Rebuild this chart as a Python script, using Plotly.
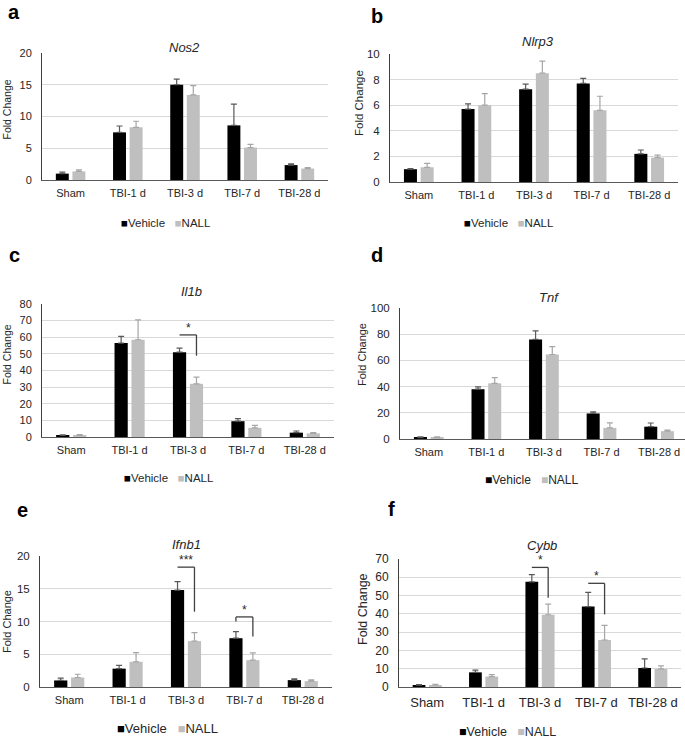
import plotly.graph_objects as go

W, H = 685, 741

categories = ["Sham", "TBI-1 d", "TBI-3 d", "TBI-7 d", "TBI-28 d"]

# mean fold change and upper error
nos2_vehicle = [1.0, 7.5, 15.0, 8.6, 2.35]
nos2_vehicle_err = [0.25, 1.0, 0.9, 3.35, 0.2]
nos2_nall = [1.35, 8.3, 13.4, 5.1, 1.8]
nos2_nall_err = [0.25, 0.95, 1.45, 0.5, 0.15]

nlrp3_vehicle = [1.0, 5.7, 7.25, 7.7, 2.2]
nlrp3_vehicle_err = [0.05, 0.4, 0.4, 0.4, 0.3]
nlrp3_nall = [1.15, 6.0, 8.5, 5.6, 1.9]
nlrp3_nall_err = [0.3, 0.9, 0.95, 1.1, 0.2]

il1b_vehicle = [1.0, 56.5, 51.0, 9.5, 2.6]
il1b_vehicle_err = [0.3, 4.0, 2.4, 1.5, 1.0]
il1b_nall = [1.0, 58.5, 32.0, 5.5, 2.2]
il1b_nall_err = [0.4, 12.0, 4.0, 1.5, 0.4]

tnf_vehicle = [1.0, 38.0, 76.0, 19.5, 9.4]
tnf_vehicle_err = [0.6, 1.8, 6.5, 1.2, 2.8]
tnf_nall = [1.0, 42.5, 64.5, 8.5, 6.0]
tnf_nall_err = [0.6, 4.3, 6.0, 3.8, 0.8]

ifnb1_vehicle = [1.0, 2.8, 14.8, 7.45, 1.05]
ifnb1_vehicle_err = [0.35, 0.5, 1.3, 1.0, 0.2]
ifnb1_nall = [1.45, 3.85, 7.0, 4.1, 0.9]
ifnb1_nall_err = [0.5, 1.4, 1.3, 1.1, 0.2]

cybb_vehicle = [1.0, 8.0, 57.5, 44.0, 10.4]
cybb_vehicle_err = [0.3, 1.2, 4.0, 7.7, 5.0]
cybb_nall = [1.1, 5.7, 39.5, 25.7, 9.9]
cybb_nall_err = [0.4, 1.1, 5.8, 8.0, 1.6]

# significance brackets: category, label, top of bracket, bottom of right leg, left tick end
il1b_sig = [("TBI-3 d", "*", 61.4, 48.9, None)]
ifnb1_sig = [("TBI-3 d", "***", 18.3, 11.5, None), ("TBI-7 d", "*", 10.7, 7.7, 10.0)]
cybb_sig = [("TBI-3 d", "*", 65.4, 48.8, None), ("TBI-7 d", "*", 56.7, 39.7, None)]

FONT = "Liberation Sans, Arial, sans-serif"
TEXT = "#262626"
VEH_COLOR = "#000000"
NALL_COLOR = "#bfbfbf"
BARGAP = 0.42

# pixel boxes of each panel and where its texts sit; font sizes: ticks x, ticks y, axis title, legend
panels = [
    dict(gene="Nos2", letter="a", v=nos2_vehicle, ve=nos2_vehicle_err, n=nos2_nall, ne=nos2_nall_err,
         box=(42, 53, 328, 180), ymax=20, dtick=5, title=(184, 48), let=(13.5, 12), leg=(166, 223),
         ylab=(6.5, 110), fs=(11, 11, 10.5, 11.5), sig=[]),
    dict(gene="Nlrp3", letter="b", v=nlrp3_vehicle, ve=nlrp3_vehicle_err, n=nlrp3_nall, ne=nlrp3_nall_err,
         box=(390, 54, 678, 182), ymax=10, dtick=2, title=(538, 42), let=(377, 16), leg=(509, 223),
         ylab=(359, 103), fs=(11, 11.5, 11.5, 11.5), sig=[]),
    dict(gene="Il1b", letter="c", v=il1b_vehicle, ve=il1b_vehicle_err, n=il1b_nall, ne=il1b_nall_err,
         box=(42, 304, 334, 437), ymax=80, dtick=10, title=(191, 292), let=(14, 255), leg=(169, 478),
         ylab=(6.5, 355), fs=(11, 11, 10.5, 11.5), sig=il1b_sig),
    dict(gene="Tnf", letter="d", v=tnf_vehicle, ve=tnf_vehicle_err, n=tnf_nall, ne=tnf_nall_err,
         box=(400, 308, 685, 439), ymax=100, dtick=20, title=(549, 297), let=(377, 255), leg=(532, 480),
         ylab=(362, 355), fs=(11, 11.5, 11, 12), sig=[], xmax=4.45),
    dict(gene="Ifnb1", letter="e", v=ifnb1_vehicle, ve=ifnb1_vehicle_err, n=ifnb1_nall, ne=ifnb1_nall_err,
         box=(40, 556, 332, 687), ymax=20, dtick=5, title=(187, 544), let=(22, 510), leg=(167, 728),
         ylab=(7, 622), fs=(11, 11.5, 11, 13), sig=ifnb1_sig),
    dict(gene="Cybb", letter="f", v=cybb_vehicle, ve=cybb_vehicle_err, n=cybb_nall, ne=cybb_nall_err,
         box=(399, 559, 681, 687), ymax=70, dtick=10, title=(542, 545), let=(391, 509), leg=(507, 732),
         ylab=(363, 609), fs=(13, 12, 12.5, 12.5), sig=cybb_sig),
]


def px(x):
    return x / W


def py(y):
    return 1 - y / H


fig = go.Figure()
annotations = []
shapes = []
half = (1 - BARGAP) / 4  # offset of each bar centre from the category centre

for k, p in enumerate(panels, start=1):
    xa, ya = f"x{k}", f"y{k}"
    xfs, yfs, labfs, legfs = p["fs"]
    for name, vals, errs, color, ecolor in [("Vehicle", p["v"], p["ve"], VEH_COLOR, "#595959"),
                                            ("NALL", p["n"], p["ne"], NALL_COLOR, "#a6a6a6")]:
        fig.add_trace(go.Bar(
            x=categories, y=vals, name=name, marker_color=color, marker_line_width=0,
            error_y=dict(type="data", symmetric=False, array=errs, arrayminus=[0] * len(errs),
                         color=ecolor, thickness=1.2, width=3),
            xaxis=xa, yaxis=ya, showlegend=False, cliponaxis=False))

    x0, y0, x1, y1 = p["box"]
    fig.layout[f"xaxis{k}"] = dict(
        domain=[px(x0), px(x1)], anchor=ya, type="category", automargin=False,
        range=[-0.5, p.get("xmax", 4.5)], showline=True, linecolor="#595959", linewidth=1.2,
        showgrid=False, zeroline=False, ticks="", ticklabelstandoff=3,
        tickfont=dict(family=FONT, size=xfs, color=TEXT), fixedrange=True)
    fig.layout[f"yaxis{k}"] = dict(
        domain=[py(y1), py(y0)], anchor=xa, range=[0, p["ymax"]], dtick=p["dtick"], automargin=False,
        showline=True, linecolor="#404040", linewidth=1, showgrid=True, gridcolor="#d9d9d9",
        gridwidth=1, zeroline=False, ticks="", ticklabelstandoff=7,
        tickfont=dict(family=FONT, size=yfs, color=TEXT), fixedrange=True)

    annotations.append(dict(text=f"<i>{p['gene']}</i>", x=px(p["title"][0]), y=py(p["title"][1]),
                            xref="paper", yref="paper", showarrow=False, xanchor="center", yanchor="middle",
                            font=dict(family=FONT, size=13, color=TEXT)))
    annotations.append(dict(text=f"<b>{p['letter']}</b>", x=px(p["let"][0]), y=py(p["let"][1]),
                            xref="paper", yref="paper", showarrow=False, xanchor="center", yanchor="middle",
                            font=dict(family=FONT, size=20, color="#000000")))
    annotations.append(dict(text="Fold Change", x=px(p["ylab"][0]), y=py(p["ylab"][1]), textangle=-90,
                            xref="paper", yref="paper", showarrow=False, xanchor="center", yanchor="middle",
                            font=dict(family=FONT, size=labfs, color=TEXT)))
    legend_text = (f"<span style='color:{VEH_COLOR}'>■</span>Vehicle&nbsp;&nbsp;&nbsp;"
                   f"<span style='color:{NALL_COLOR}'>■</span>NALL")
    annotations.append(dict(text=legend_text, x=px(p["leg"][0]), y=py(p["leg"][1]),
                            xref="paper", yref="paper", showarrow=False, xanchor="center", yanchor="middle",
                            font=dict(family=FONT, size=legfs, color=TEXT)))

    for cat, label, top, bottom, tick in p["sig"]:
        i = categories.index(cat)
        xl, xr = i - half, i + half
        line = dict(color="#404040", width=1.3)
        shapes.append(dict(type="line", xref=xa, yref=ya, x0=xl, x1=xr, y0=top, y1=top, line=line))
        shapes.append(dict(type="line", xref=xa, yref=ya, x0=xr, x1=xr, y0=top, y1=bottom, line=line))
        if tick is not None:
            shapes.append(dict(type="line", xref=xa, yref=ya, x0=xl, x1=xl, y0=top, y1=tick, line=line))
        annotations.append(dict(text=label, x=i, y=top, xref=xa, yref=ya, showarrow=False,
                                xanchor="center", yanchor="bottom", yshift=-2,
                                font=dict(family=FONT, size=12, color=TEXT)))

fig.update_layout(
    template="none",
    width=W, height=H, margin=dict(l=0, r=0, t=0, b=0, pad=0, autoexpand=False),
    paper_bgcolor="white", plot_bgcolor="white",
    barmode="group", bargap=BARGAP, bargroupgap=0.22,
    annotations=annotations, shapes=shapes, showlegend=False,
)

# the page's default body margin would push the 685x741 figure off the window
fig.write_html("out.html", config={"displayModeBar": False},
               post_script="document.body.style.margin = '0';")
